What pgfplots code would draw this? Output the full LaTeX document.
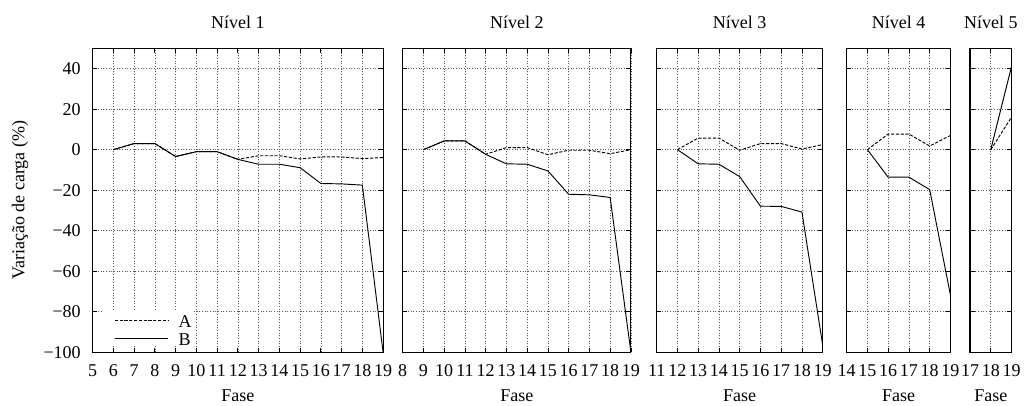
\documentclass[border=0pt]{standalone}
\usepackage{fontspec}
\setmainfont{Liberation Serif}
\usepackage{pgfplots}
\pgfplotsset{compat=1.18}
\pgfplotsset{
 panel/.style={
  scale only axis, height=228pt, ymin=-100, ymax=50,
  ytick={-100,-80,...,40}, yticklabels={},
  tick align=inside, xtick pos=both, ytick pos=both,
  major tick length=3.5pt,
  grid=major,
  major grid style={black!65, line width=0.5pt, dash pattern=on 0.75pt off 1.25pt},
  axis line style={line width=0.8pt},
  every tick/.style={black, line width=0.6pt},
  /pgf/number format/assume math mode=true,
  xticklabel style={anchor=base, yshift=-17.8pt, inner sep=0pt},
  yticklabel style={anchor=east, inner sep=0pt, xshift=-8.7pt},
  every axis title/.style={at={(axis description cs:0.5,1)}, anchor=base, yshift=15pt, inner sep=0pt},
  xlabel={Fase},
  xlabel style={at={(axis description cs:0.5,0)}, anchor=base, yshift=-36.9pt, inner sep=0pt},
  anchor=south west,
 },
 sA/.style={black, line width=0.7pt, dash pattern=on 2.4pt off 1.2pt},
 sB/.style={black, line width=0.7pt},
}
\begin{document}
\begin{tikzpicture}[font=\fontsize{13.5}{16}\selectfont]
\useasboundingbox (0,0) rectangle (768.75pt,-303.75pt);
% Panel 1
\begin{axis}[panel, at={(69.45pt,-264.225pt)}, width=217.875pt,
  xmin=5, xmax=19, xtick={5,...,19}, title={Nível 1},
  yticklabels={−100,−80,−60,−40,−20,0,20,40},
  ylabel={Variação de carga (\%)},
  ylabel style={at={(axis description cs:-0.25,0.5)}, anchor=center},
  legend style={at={(axis description cs:0,0)}, anchor=south west, xshift=7.8pt, yshift=4.5pt,
    fill=white, draw=none, inner sep=0pt, row sep=0pt, column sep=7.5pt,
    nodes={inner sep=0pt, text height=13pt, text depth=0.3pt}},
  legend cell align=left,
  legend image code/.code={\path (-8.25pt,0pt); \draw[#1] (0pt,-1pt) -- (40pt,-1pt);},
]
\addplot[sA] coordinates {(6,0)(7,3)(8,3)(9,-3.4)(10,-1)(11,-1)(12,-4.8)(13,-3)(14,-3)(15,-4.6)(16,-3.6)(17,-3.6)(18,-4.4)(19,-3.9)};
\addplot[sB] coordinates {(6,0)(7,3)(8,3)(9,-3.4)(10,-1)(11,-1)(12,-4.8)(13,-7.2)(14,-7.2)(15,-8.9)(16,-16.7)(17,-16.9)(18,-17.5)(19,-100)};
\legend{A,B}
\end{axis}
% Panel 2
\begin{axis}[panel, at={(302.0pt,-264.225pt)}, width=171.1875pt,
  xmin=8, xmax=19, xtick={8,...,19}, title={Nível 2}]
\addplot[sA] coordinates {(9,0)(10,4.3)(11,4.3)(12,-2.3)(13,1)(14,1)(15,-2.5)(16,-0.3)(17,-0.3)(18,-2)(19,0)};
\addplot[sB] coordinates {(9,0)(10,4.3)(11,4.3)(12,-2.3)(13,-7)(14,-7.2)(15,-10.5)(16,-22)(17,-22.3)(18,-23.6)(19,-100)};
\end{axis}
% Panel 3
\begin{axis}[panel, at={(492.5pt,-264.225pt)}, width=124.5pt,
  xmin=11, xmax=19, xtick={11,...,19}, title={Nível 3}]
\addplot[sA] coordinates {(12,0)(13,5.7)(14,5.7)(15,-0.3)(16,3)(17,3)(18,0.3)(19,2.5)};
\addplot[sB] coordinates {(12,0)(13,-7)(14,-7.2)(15,-13.3)(16,-27.9)(17,-28)(18,-30.8)(19,-96.4)};
\end{axis}
% Panel 4
\begin{axis}[panel, at={(635.0pt,-264.225pt)}, width=77.8125pt,
  xmin=14, xmax=19, xtick={14,...,19}, title={Nível 4}]
\addplot[sA] coordinates {(15,0)(16,7.7)(17,7.7)(18,1.8)(19,7)};
\addplot[sB] coordinates {(15,0)(16,-13.6)(17,-13.6)(18,-19.7)(19,-71.7)};
\end{axis}
% Panel 5
\begin{axis}[panel, at={(727.5pt,-264.225pt)}, width=31.125pt,
  xmin=17, xmax=19, xtick={17,...,19}, title={Nível 5}]
\addplot[sA] coordinates {(18,0)(19,16)};
\addplot[sB] coordinates {(18,0)(19,41)};
\end{axis}
\end{tikzpicture}
\end{document}
